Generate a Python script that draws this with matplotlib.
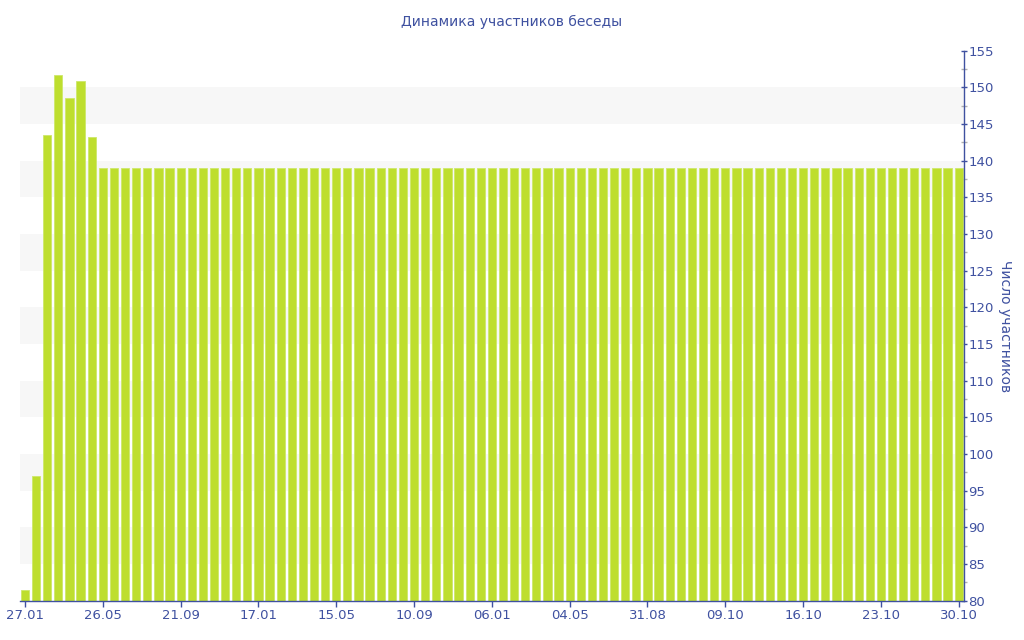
import matplotlib
matplotlib.use("Agg")
import matplotlib.pyplot as plt
from matplotlib.ticker import MultipleLocator

# Data
head_values = [81.5, 97, 143.5, 151.7, 148.5, 150.9, 143.3]
tail_values = [139] * 78
values = head_values + tail_values
tick_labels = ["27.01", "26.05", "21.09", "17.01", "15.05", "10.09", "06.01",
               "04.05", "31.08", "09.10", "16.10", "23.10", "30.10"]
tick_step = 7

title = "Динамика участников беседы"
ylabel = "Число участников"

bar_color = "#bede2e"
axis_color = "#3f51a0"
text_color = "#3f51a0"
band_color = "#f7f7f7"

fig = plt.figure(figsize=(10.24, 6.4), dpi=100)
ax = fig.add_axes([20 / 1024, 1 - 600.7 / 640, (963.5 - 20) / 1024, (600.7 - 50.7) / 640])

x = list(range(len(values)))
ax.bar(x, values, width=0.74, color=bar_color, edgecolor="#cde86a", linewidth=0.6, zorder=2)

# alternating bands
for lo in range(85, 155, 10):
    ax.axhspan(lo, lo + 5, color=band_color, zorder=0, lw=0)

ax.set_xlim(-0.45, len(values) - 1 + 0.43)
ax.set_ylim(80, 155)

ax.yaxis.tick_right()
ax.yaxis.set_label_position("right")
ax.yaxis.set_major_locator(MultipleLocator(5))
ax.yaxis.set_minor_locator(MultipleLocator(2.5))
ax.tick_params(axis="y", which="major", direction="inout", length=5, width=1,
               color=axis_color, labelcolor=text_color, labelsize=9.5, pad=1)
ax.tick_params(axis="y", which="minor", direction="inout", length=4, width=1, color="#b0b0b0")

tick_pos = [i * tick_step for i in range(len(tick_labels))]
ax.set_xticks(tick_pos)
ax.set_xticklabels(tick_labels)
ax.tick_params(axis="x", which="major", direction="out", length=4, width=1,
               color=axis_color, labelcolor=text_color, labelsize=9.5, pad=2)

for side in ["top", "left"]:
    ax.spines[side].set_visible(False)
for side in ["bottom", "right"]:
    ax.spines[side].set_color(axis_color)
    ax.spines[side].set_linewidth(1)

ax.set_ylabel(ylabel, color=text_color, fontsize=10, rotation=-90, labelpad=13)
fig.text(0.5, 1 - 22 / 640, title, color=text_color, fontsize=10, ha="center", va="center")

fig.savefig("out.png", dpi=100)
